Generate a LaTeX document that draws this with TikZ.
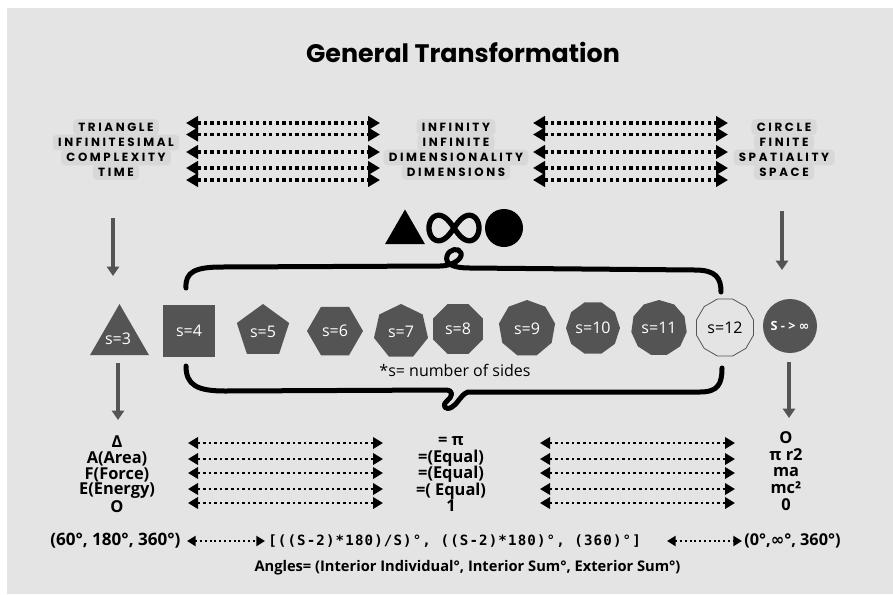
\documentclass[tikz,border=0pt]{standalone}
\usepackage{fontspec}
\setmainfont{Open Sans}
\newfontfamily\trackfont[LetterSpace=22]{Poppins}
\newfontfamily\titlefont{Poppins}
\newfontfamily\monof[LetterSpace=8]{DejaVu Sans Mono}
\newfontfamily\symf{DejaVu Sans}
\usetikzlibrary{arrows.meta,shapes.geometric}
\definecolor{bgc}{HTML}{E4E4E4}
\definecolor{shp}{HTML}{545454}
\definecolor{hlc}{HTML}{D8D8D8}
\tikzset{
  lbl/.style={fill=hlc, rounded corners=3pt, inner xsep=4pt, inner ysep=2.6pt,
    text height=6.6pt, text depth=0pt, font=\trackfont\bfseries\fontsize{8.9}{10}\selectfont},
  dotarr/.style={line width=2.5pt, dash pattern=on 2.5pt off 2.4pt,
    {Triangle[length=9pt,width=10pt]}-{Triangle[length=9pt,width=10pt]}},
  dotarrs/.style={line width=2pt, dash pattern=on 2pt off 2.2pt,
    {Triangle[length=7.5pt,width=8.5pt]}-{Triangle[length=7.5pt,width=8.5pt]}},
  dotarrf/.style={line width=1.6pt, dash pattern=on 1.6pt off 2pt,
    {Triangle[length=6.5pt,width=7.5pt]}-{Triangle[length=6.5pt,width=7.5pt]}},
  downarr/.style={draw=shp, line width=2.4pt, -{Triangle[length=7pt,width=9pt]}},
  poly/.style={regular polygon, fill=shp, inner sep=0pt, text=white, font=\fontsize{12}{12}\selectfont},
  btxt/.style={inner sep=0pt, font=\bfseries\fontsize{12.3}{13}\selectfont},
  curl/.style={line width=3.75pt, line cap=round, line join=round},
}
\begin{document}
\begin{tikzpicture}[x=0.75pt,y=-0.75pt]
\useasboundingbox (0,0) rectangle (893,594);
\fill[white] (0,0) rectangle (893,594);
\fill[bgc] (7,8) rectangle (893,594);

% title
\node[inner sep=0pt, font=\titlefont\bfseries\fontsize{19}{22}\selectfont] (title) at (463,52) {General Transformation};

% top label blocks
\node[lbl] (tl1) at (116,127) {TRIANGLE};
\node[lbl] (tl2) at (116,142.5) {INFINITESIMAL};
\node[lbl] (tl3) at (116,157.5) {COMPLEXITY};
\node[lbl] (tl4) at (116,172) {TIME};

\node[lbl] (tm1) at (456,127) {INFINITY};
\node[lbl] (tm2) at (456,142.5) {INFINITE};
\node[lbl] (tm3) at (456,157.5) {DIMENSIONALITY};
\node[lbl] (tm4) at (456,172) {DIMENSIONS};

\node[lbl] (tr1) at (784,127) {CIRCLE};
\node[lbl] (tr2) at (784,142.5) {FINITE};
\node[lbl] (tr3) at (784,157.5) {SPATIALITY};
\node[lbl] (tr4) at (784,172) {SPACE};

% top dotted arrows
\foreach \y [count=\i] in {123,134.5,152,168,180}{
  \coordinate (ta\i l) at (186,\y); \coordinate (ta\i r) at (380,\y);
  \coordinate (tb\i l) at (533,\y); \coordinate (tb\i r) at (728,\y);
  \draw[dotarr] (ta\i l) -- (ta\i r);
  \draw[dotarr] (tb\i l) -- (tb\i r);
}

% symbols
\node[regular polygon, regular polygon sides=3, fill=black, inner sep=0pt, minimum size=34.5pt] (symtri) at (405,232.5) {};
\draw[line width=4pt] plot[domain=0:360, samples=150, smooth]
  ({454+25*cos(\x)/(1+sin(\x)^2)}, {228+36*sin(\x)*cos(\x)/(1+sin(\x)^2)});
\node[circle, fill=black, inner sep=0pt, minimum size=28.5pt] (symcirc) at (504,228) {};

% down arrows
\coordinate (d1a) at (113,218); \coordinate (d1b) at (113,276);
\coordinate (d2a) at (782,211); \coordinate (d2b) at (782,270);
\coordinate (d3a) at (118,363); \coordinate (d3b) at (118,420);
\coordinate (d4a) at (789,362); \coordinate (d4b) at (789,418);
\draw[downarr] (d1a) -- (d1b);
\draw[downarr] (d2a) -- (d2b);
\draw[downarr] (d3a) -- (d3b);
\draw[downarr] (d4a) -- (d4b);

% polygons
\node[poly, regular polygon sides=3, minimum size=51pt] (p3) at (119.5,338) {};
\node[text=white, font=\fontsize{12}{12}\selectfont, inner sep=0pt] (p3t) at (118,339) {s=3};
\node[poly, regular polygon sides=4, minimum size=55.1pt] (p4) at (189,331) {s=4};
\node[poly, regular polygon sides=5, minimum size=41.25pt] (p5) at (263,331.5) {s=5};
\node[poly, regular polygon sides=6, minimum size=42pt] (p6) at (335,331) {s=6};
\node[poly, regular polygon sides=7, minimum size=41.55pt] (p7) at (401,331.7) {s=7};
\node[poly, regular polygon sides=8, minimum size=40.5pt] (p8) at (458,329) {s=8};
\node[poly, regular polygon sides=9, minimum size=42.75pt] (p9) at (527,328.5) {s=9};
\node[poly, regular polygon sides=10, minimum size=40.5pt] (p10) at (593,328) {s=10};
\node[poly, regular polygon sides=11, minimum size=42pt] (p11) at (659,328) {s=11};
\node[regular polygon, regular polygon sides=12, minimum size=44.25pt, draw=shp, line width=0.6pt, inner sep=0pt, font=\fontsize{12}{12}\selectfont] (p12) at (725,327.5) {s=12};
\node[circle, fill=shp, minimum size=40.5pt, inner sep=0pt, text=white, font=\bfseries\fontsize{9.5}{10}\selectfont] (pinf) at (790,326) {S - > {\symf ∞}};

\node[inner sep=0pt, font=\fontsize{12}{13}\selectfont] (note) at (455,370) {*s= number of sides};

% curly brackets
\coordinate (c1s) at (186,288); \coordinate (c1e) at (721,292);
\draw[curl] (c1s) .. controls (185,272) and (195,267) .. (222,267)
  -- (440,266)
  .. controls (452,266) and (463,259) .. (461,253)
  .. controls (459,247) and (449,249) .. (447,256)
  .. controls (445,263) and (451,268) .. (470,268)
  -- (695,270)
  .. controls (716,270) and (721,278) .. (c1e);
\coordinate (c2s) at (186,366); \coordinate (c2e) at (722,368);
\draw[curl] (c2s) .. controls (186,385) and (197,391) .. (225,391)
  -- (445,390)
  .. controls (455,390) and (452,397) .. (447,401)
  .. controls (441,406) and (446,411) .. (452,407)
  .. controls (458,404) and (460,395) .. (468,392)
  -- (700,392)
  .. controls (718,392) and (722,384) .. (c2e);

% bottom blocks
\node[btxt] (bl1) at (117,442) {Δ};
\node[btxt] (bl2) at (117,459) {A(Area)};
\node[btxt] (bl3) at (117,475) {F(Force)};
\node[btxt] (bl4) at (117,491) {E(Energy)};
\node[btxt] (bl5) at (117,507) {O};

\node[btxt] (bm1) at (451,441) {= π};
\node[btxt] (bm2) at (451,458) {=(Equal)};
\node[btxt] (bm3) at (451,474) {=(Equal)};
\node[btxt] (bm4) at (451,491) {=( Equal)};
\node[btxt] (bm5) at (451,506) {1};

\node[btxt] (br1) at (786,438) {O};
\node[btxt] (br2) at (786,455) {π r2};
\node[btxt] (br3) at (786,472) {ma};
\node[btxt] (br4) at (786,488) {mc²};
\node[btxt] (br5) at (786,505) {0};

\foreach \y [count=\i] in {443,459,473,489,503}{
  \coordinate (ba\i l) at (188,\y); \coordinate (ba\i r) at (383,\y);
  \coordinate (bb\i l) at (540,\y); \coordinate (bb\i r) at (735,\y);
  \draw[dotarrs] (ba\i l) -- (ba\i r);
  \draw[dotarrs] (bb\i l) -- (bb\i r);
}

% formula line
\node[btxt, anchor=west, font=\bfseries\fontsize{12.8}{13}\selectfont] (f1) at (50,541) {(60°, 180°, 360°)};
\node[inner sep=0pt, anchor=west, font=\monof\bfseries\fontsize{10.6}{12}\selectfont] (f2) at (268,541) {[((S-2)*180)/S)°, ((S-2)*180)°, (360)°]};
\node[btxt, anchor=west, font=\bfseries\fontsize{12.2}{13}\selectfont] (f3) at (744,541) {(0°,{\symf ∞}°, 360°)};
\coordinate (fa1) at (187,541); \coordinate (fa2) at (265,541);
\draw[dotarrf] (fa1) -- (fa2);
\coordinate (fb1) at (667,541); \coordinate (fb2) at (742,541);
\draw[dotarrf] (fb1) -- (fb2);

\node[inner sep=0pt, font=\bfseries\fontsize{11}{12}\selectfont] (angles) at (467.5,568) {Angles= (Interior Individual°, Interior Sum°, Exterior Sum°)};
\end{tikzpicture}
\end{document}
